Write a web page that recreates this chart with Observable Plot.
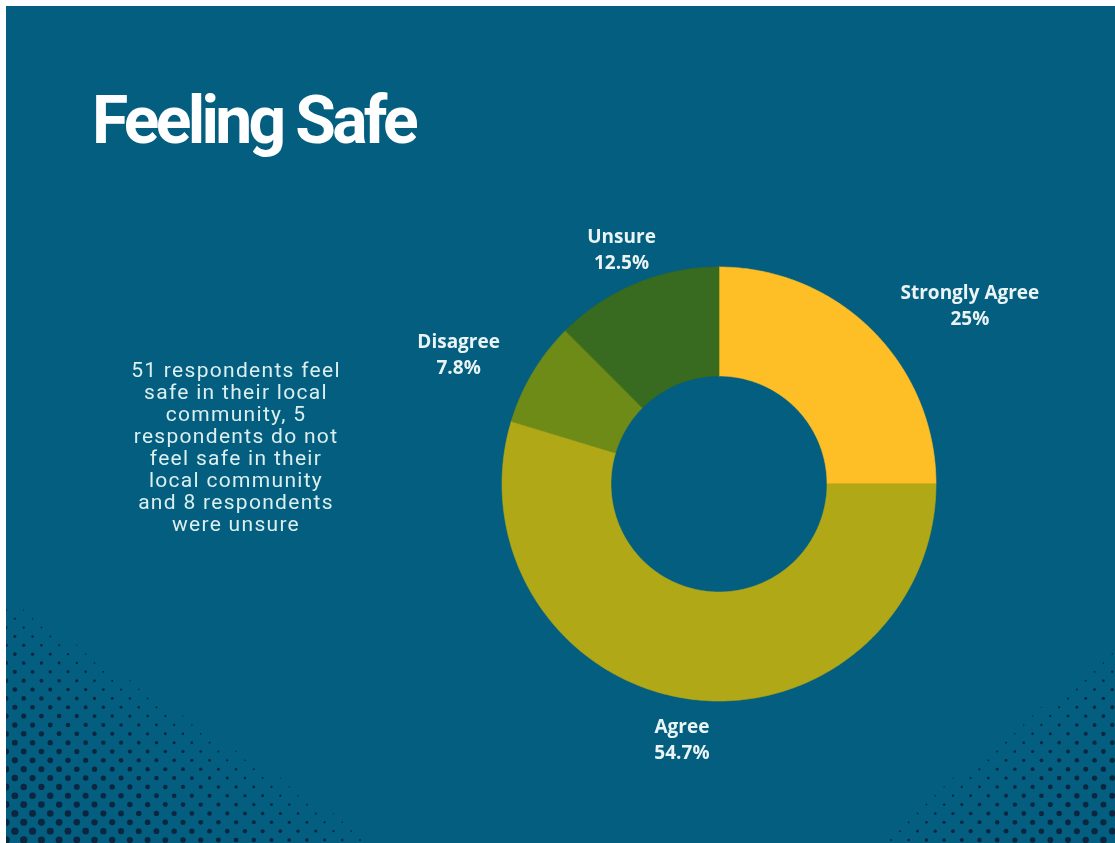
<!DOCTYPE html>
<html>
<head>
<meta charset="utf-8">
<script src="https://cdn.jsdelivr.net/npm/d3@7"></script>
<script src="https://cdn.jsdelivr.net/npm/@observablehq/plot@0.6"></script>
<style>
  html, body { margin: 0; padding: 0; background: #ffffff; }
  body { width: 1115px; height: 843px; position: relative; overflow: hidden; }
  #page { position: absolute; left: 6px; top: 6px; width: 1109px; height: 837px; background: #035e80; overflow: hidden; }
  #dots { position: absolute; left: 0; top: 0; }
  #title { position: absolute; left: 86px; top: 82px; font-family: Roboto, sans-serif; font-weight: 700; font-size: 66px; line-height: 1; letter-spacing: -3.7px; color: #ffffff; white-space: nowrap; }
  #note { position: absolute; left: 94px; top: 353px; width: 272px; text-align: center; font-family: Roboto, sans-serif; font-weight: 400; font-size: 21px; line-height: 22px; letter-spacing: 1.3px; color: #dcefef; }
  #chart { position: absolute; left: 363px; top: 178px; }
</style>
</head>
<body>
<div id="page">
  <canvas id="dots" width="1109" height="837"></canvas>
  <div id="title">Feeling Safe</div>
  <div id="note">51 respondents feel<br>safe in their local<br>community, 5<br>respondents do not<br>feel safe in their<br>local community<br>and 8 respondents<br>were unsure</div>
  <div id="chart"></div>
</div>
<script>
// ---- data ----
const categories = ["Strongly Agree", "Agree", "Disagree", "Unsure"];
const counts = [16, 35, 5, 8];
const percentLabels = ["25%", "54.7%", "7.8%", "12.5%"];
const sliceColors = ["#fdbe26", "#b0a816", "#6e8a17", "#386a1f"];

// ---- decorative halftone background (not chart data) ----
(function () {
  const cv = document.getElementById("dots");
  const ctx = cv.getContext("2d");
  ctx.fillStyle = "#0c2640";
  const ox = 6, oy = 6; // page offset
  const step = 8.85;
  for (let row = 0; row * step < 300; row++) {
    const y = 840 - row * step;
    const shift = (row % 2) * step;
    for (let x = 6 + shift; x < 1120; x += step * 2) {
      let u = (x - 6) / 380, v = (843 - y) / 250;
      let f = 1 - (u + v);
      let r = 0;
      if (f > 0) r = Math.max(r, 3.8 * Math.pow(f, 0.5));
      u = (1115 - x) / 250; v = (843 - y) / 200;
      f = 1 - (u + v);
      if (f > 0) r = Math.max(r, 3.4 * Math.pow(f, 0.5));
      if (r > 0.5) {
        ctx.beginPath();
        ctx.arc(x - ox, y - oy, r, 0, 2 * Math.PI);
        ctx.fill();
      }
    }
  }
})();

// ---- donut chart ----
const outerR = 217, innerR = 108, labelR = 256;
const labelFont = "700 19px 'Open Sans'";
const measure = document.createElement("canvas").getContext("2d");
measure.font = labelFont;
const total = d3.sum(counts);
let acc = 0;
const slices = categories.map((c, i) => {
  const a0 = acc / total * 2 * Math.PI;
  acc += counts[i];
  const a1 = acc / total * 2 * Math.PI;
  const mid = (a0 + a1) / 2;
  const w = Math.max(measure.measureText(c).width, measure.measureText(percentLabels[i]).width);
  const s = Math.sin(mid);
  const side = s > 0.5 ? 1 : s < -0.5 ? -1 : 0;
  return {category: c, a0, a1, mid, side, w, label: c + "\n" + percentLabels[i]};
});
const ring = slices.flatMap(s => {
  const n = Math.max(2, Math.ceil((s.a1 - s.a0) / (Math.PI / 360)));
  return d3.range(n + 1).map(k => {
    const a = s.a0 + (s.a1 - s.a0) * k / n;
    return {
      category: s.category,
      x1: innerR * Math.sin(a), y1: innerR * Math.cos(a),
      x2: outerR * Math.sin(a), y2: outerR * Math.cos(a)
    };
  });
});

const chart = Plot.plot({
  width: 700, height: 600, margin: 0,
  x: {domain: [-350, 350], axis: null},
  y: {domain: [-300, 300], axis: null},
  color: {domain: categories, range: sliceColors},
  style: {background: "transparent", overflow: "visible"},
  marks: [
    Plot.area(ring, {x1: "x1", y1: "y1", x2: "x2", y2: "y2", z: "category", fill: "category", stroke: "category", strokeWidth: 0.6}),
    Plot.text(slices, {
      x: d => labelR * Math.sin(d.mid) + d.side * d.w / 2,
      y: d => labelR * Math.cos(d.mid),
      text: "label", fill: "#eaf4f4", textAnchor: "middle",
      fontFamily: "Open Sans", fontWeight: 700, fontSize: 19, lineHeight: 1.37, lineAnchor: "middle"
    })
  ]
});
document.getElementById("chart").appendChild(chart);
</script>
</body>
</html>
